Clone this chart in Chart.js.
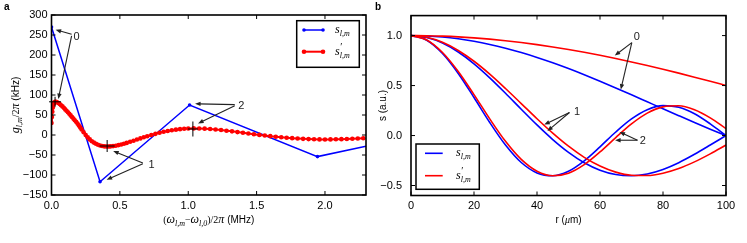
<!DOCTYPE html>
<html>
<head>
<meta charset="utf-8">
<script src="https://cdn.jsdelivr.net/npm/chart.js@4.4.1/dist/chart.umd.min.js"></script>
<style>
  body{margin:0;background:#fff}
  #wrap{position:relative;width:747px;height:243px}
  canvas{position:absolute;top:0}
</style>
</head>
<body>
<div id="wrap">
  <canvas id="chartA" width="373" height="243" style="left:0"></canvas>
  <canvas id="chartB" width="374" height="243" style="left:373px"></canvas>
</div>
<script>
/* ---------- panel a data : coupling vs detuning ---------- */
const blueFreq     = [0, 0.355, 1.01, 1.945, 2.3];
const blueCoupling = [270, -117, 75, -54, -28];

const redFreq = [
  0,0.003,0.006,0.01,0.015,0.02,0.026,0.033,0.04,0.05,
  0.06,0.07,0.08,0.09,0.10,0.11,0.12,0.13,0.14,0.15,0.16,0.17,0.18,0.19,0.20,0.21,0.22,
  0.235,0.25,0.265,0.28,0.295,0.31,0.325,0.34,0.355,0.37,0.385,0.40,0.415,0.43,
  0.45,0.47,0.49,0.51,0.53,0.55,
  0.575,0.60,0.625,0.65,0.675,0.70,
  0.73,0.76,0.79,0.82,0.85,0.88,0.91,0.94,0.97,1.00,
  1.04,1.08,1.12,1.16,1.20,1.24,1.28,1.32,1.36,1.40,1.44,1.48,1.52,1.56,1.60,1.64,
  1.68,1.72,1.76,1.80,1.84,1.88,1.92,1.96,2.00,2.04,2.08,2.12,2.16,2.20,2.24,2.28
];
const redCoupling = [
  30,45,58,69,77,81,83,83,82,80,
  77.5,74.5,71.5,68,64,60.5,57,53,49,45,41,37,33,28.5,24,19,14,
  7,0,-6,-11,-15.5,-19,-22,-24.5,-26.3,-27.6,-28.4,-28.8,-28.8,-28.5,
  -27.8,-26.7,-25.3,-23.6,-21.7,-19.7,
  -17,-14.2,-11.3,-8.5,-5.7,-3.1,
  0,2.9,5.6,8,10.1,11.9,13.4,14.6,15.5,16.1,
  16.5,16.4,15.9,15,13.8,12.4,10.8,9.1,7.3,5.5,3.7,1.9,0.2,-1.4,-2.9,-4.3,
  -5.6,-6.8,-7.9,-8.8,-9.6,-10.2,-10.7,-11,-11.1,-11,-10.8,-10.4,-10,-9.4,-8.8,-8.2
];
const ticksAx = [0, 0.5, 1.0, 1.5, 2.0];
const ticksAy = [-150,-100,-50,0,50,100,150,200,250,300];

/* ---------- panel b data : mode profiles vs radius ---------- */
const rUm   = [0,5,10,15,20,25,30,35,40,45,50,55,60,65,70,75,80,85,90,95,100];
const blue0 = [1,0.9964,0.9856,0.9676,0.9430,0.9117,0.8739,0.8300,0.7814,0.7280,0.6698,0.6080,0.5434,0.4762,0.4075,0.3377,0.2679,0.1986,0.1302,0.0638,0];
const red0  = [1,0.9986,0.9942,0.9871,0.9770,0.9643,0.9488,0.9305,0.9096,0.8863,0.8605,0.8325,0.8027,0.7705,0.7362,0.7005,0.6630,0.6242,0.5840,0.5428,0.5006];
const blue1 = [1,0.981,0.9255,0.8355,0.7178,0.5777,0.4233,0.2632,0.1059,-0.0403,-0.1682,-0.2722,-0.3467,-0.3905,-0.4024,-0.3843,-0.3389,-0.2715,-0.1878,-0.0951,0];
const red1  = [1,0.983,0.9324,0.8509,0.7432,0.6145,0.4707,0.3197,0.1678,0.0237,-0.1070,-0.2183,-0.3050,-0.3660,-0.3971,-0.4001,-0.3772,-0.3301,-0.2635,-0.1834,-0.0952];
const blue2 = [1,0.9537,0.8211,0.6211,0.3800,0.1305,-0.0948,-0.2697,-0.3740,-0.4020,-0.3564,-0.2524,-0.1130,0.0353,0.1660,0.2585,0.2990,0.2830,0.2177,0.1166,0];
const red2  = [1,0.9564,0.8310,0.6405,0.4095,0.1666,-0.0583,-0.2389,-0.3567,-0.4020,-0.3766,-0.2909,-0.1644,-0.0206,0.1161,0.2238,0.2867,0.2976,0.2575,0.1763,0.0692];
const ticksBx = [0,20,40,60,80,100];
const ticksBy = [-0.5,0,0.5,1.0];

/* ---------- helpers ---------- */
const BLUE='#0000ff', RED='#ff0000', INK='#222';
const SANS='"Liberation Sans", Arial, sans-serif';
const SERIF='"Liberation Serif", "DejaVu Serif", serif';
const pts = (xs,ys)=>xs.map((v,i)=>({x:v,y:ys[i]}));
const minus = s=>s.replace('-','\u2212');

// draw run of text pieces: [text, font, dy, noAdvance, dx]
function rich(ctx,parts,x,y,align){
  let w=0;
  parts.forEach(p=>{ if(!p[3]){ctx.font=p[1]; w+=ctx.measureText(p[0]).width;} });
  let cx = align==='left' ? x : x-w/2;
  ctx.textAlign='left'; ctx.textBaseline='alphabetic';
  parts.forEach(p=>{
    ctx.font=p[1]; ctx.fillText(p[0],cx+(p[4]||0),y+(p[2]||0));
    if(!p[3]) cx+=ctx.measureText(p[0]).width;
  });
}
function seg(ctx,x1,y1,x2,y2){ctx.beginPath();ctx.moveTo(x1,y1);ctx.lineTo(x2,y2);ctx.stroke();}
function arrow(ctx,x1,y1,x2,y2){
  const a=Math.atan2(y2-y1,x2-x1), L=5.5, W=2.2, c=Math.cos(a), s=Math.sin(a);
  seg(ctx,x1,y1,x2-c*L*0.7,y2-s*L*0.7);
  ctx.beginPath();
  ctx.moveTo(x2,y2);
  ctx.lineTo(x2-L*c+W*s, y2-L*s-W*c);
  ctx.lineTo(x2-L*c-W*s, y2-L*s+W*c);
  ctx.closePath(); ctx.fill();
}

/* ---------- decoration plugin: frame, inward ticks, arrows, legend, titles ---------- */
const deco = {
  id:'deco',
  beforeDraw(chart){
    const c=chart.ctx; c.save(); c.fillStyle='#fff'; c.fillRect(0,0,chart.width,chart.height); c.restore();
  },
  afterDatasetsDraw(chart,args,o){
    const {ctx,chartArea:ca,scales:{x,y}} = chart;
    const X=v=>x.getPixelForValue(v), Y=v=>y.getPixelForValue(v);
    ctx.save();
    ctx.strokeStyle='#000'; ctx.lineWidth=1;
    (o.crosses||[]).forEach(c=>{ seg(ctx,X(c.x)-c.w,Y(c.y),X(c.x)+c.w,Y(c.y)); seg(ctx,X(c.x),Y(c.y)-c.h,X(c.x),Y(c.y)+c.h); });
    ctx.strokeStyle=INK; ctx.fillStyle=INK; ctx.lineWidth=1.1;
    (o.arrows||[]).forEach(a=>arrow(ctx,X(a[0]),Y(a[1]),X(a[2]),Y(a[3])));
    ctx.font='11px '+SANS; ctx.textAlign='center'; ctx.textBaseline='middle';
    (o.labels||[]).forEach(l=>ctx.fillText(l.t,X(l.x),Y(l.y)));
    // inward ticks on all four sides
    ctx.strokeStyle='#000'; ctx.lineWidth=1;
    x.ticks.forEach(t=>{const p=X(t.value); seg(ctx,p,ca.bottom,p,ca.bottom-4); seg(ctx,p,ca.top,p,ca.top+4);});
    y.ticks.forEach(t=>{const p=Y(t.value); seg(ctx,ca.left,p,ca.left+4,p); seg(ctx,ca.right,p,ca.right-4,p);});
    ctx.lineWidth=1.6;
    ctx.strokeRect(ca.left,ca.top,ca.right-ca.left,ca.bottom-ca.top);
    // legend
    const lg=o.legend;
    ctx.fillStyle='#fff'; ctx.fillRect(lg.x,lg.y,lg.w,lg.h);
    ctx.strokeStyle='#000'; ctx.lineWidth=1.5; ctx.strokeRect(lg.x,lg.y,lg.w,lg.h);
    lg.rows.forEach(r=>{
      ctx.strokeStyle=r.color; ctx.fillStyle=r.color; ctx.lineWidth=r.lw;
      seg(ctx,lg.lx0,r.y,lg.lx1,r.y);
      if(r.dot){[lg.lx0,lg.lx1].forEach(px=>{ctx.beginPath();ctx.arc(px,r.y,r.dot,0,Math.PI*2);ctx.fill();});}
      ctx.fillStyle='#000';
      rich(ctx,r.text,lg.tx,r.y+3,'left');
    });
    // axis titles and panel letter
    ctx.fillStyle='#000';
    rich(ctx,o.xTitle,(ca.left+ca.right)/2,o.xTitleY);
    ctx.save(); ctx.translate(o.yTitleX,(ca.top+ca.bottom)/2); ctx.rotate(-Math.PI/2);
    rich(ctx,o.yTitle,0,0); ctx.restore();
    ctx.font='bold 10px '+SANS; ctx.textAlign='left'; ctx.textBaseline='alphabetic';
    ctx.fillText(o.letter,o.letterX,10);
    ctx.restore();
  }
};

const tickFont={family:SANS,size:11};
const it='italic 12px '+SERIF, sub='italic 8px '+SERIF;
const sLabel  =[['s',it],['l,m',sub,3]];
const sPLabel =[['s',it],['\u2032','10px '+SERIF,-5,true,0.5],['l,m',sub,3]];

function axis(min,max,list,fmt,size,pad,isX){
  return {
    type:'linear',min,max,
    afterBuildTicks:s=>{s.ticks=list.map(v=>({value:v}));},
    afterFit:s=>{ if(isX) s.height=size; else s.width=size; },
    grid:{display:false,drawTicks:false,tickLength:0}, border:{display:false},
    ticks:{font:tickFont,color:'#000',padding:pad,callback:fmt,maxRotation:0,autoSkip:false}
  };
}

/* ---------- chart a ---------- */
new Chart(document.getElementById('chartA'),{
  type:'line',
  data:{datasets:[
    {label:"s'", data:pts(redFreq,redCoupling), borderColor:RED, backgroundColor:RED,
     borderWidth:2, pointRadius:2.3, pointBorderWidth:0, order:0},
    {label:'s', data:pts(blueFreq,blueCoupling), borderColor:BLUE, backgroundColor:BLUE,
     borderWidth:1.5, pointRadius:[1.8,1.8,1.8,1.8,0], pointBorderWidth:0, order:1}
  ]},
  options:{
    responsive:false, animation:false, events:[],
    layout:{padding:{left:0,right:7,top:15,bottom:0}},
    scales:{
      x:axis(0,2.3,ticksAx,v=>v.toFixed(1),48,4,true),
      y:axis(-150,300,ticksAy,v=>minus(String(v)),51.5,4,false)
    },
    plugins:{
      legend:{display:false}, tooltip:{enabled:false},
      deco:{
        crosses:[{x:0.026,y:83,w:6,h:5},{x:0.407,y:-27.5,w:7.5,h:6},{x:1.034,y:15,w:5,h:7.5}],
        arrows:[[0.147,252,0.03,263],[0.147,248,0.05,90],
                [0.668,-70,0.451,-40],[0.668,-72,0.403,-112],
                [1.34,76,1.05,78],[1.34,73,1.072,29]],
        labels:[{t:'0',x:0.184,y:246},{t:'1',x:0.731,y:-75},{t:'2',x:1.388,y:72.5}],
        legend:{x:296.7,y:20.7,w:62.6,h:46.6,lx0:304,lx1:323,tx:335,
          rows:[{y:30,color:BLUE,lw:1.5,dot:1.8,text:sLabel},
                {y:51.7,color:RED,lw:2,dot:2.3,text:sPLabel}]},
        xTitle:[['(',  '10px '+SERIF],['\u03c9',it],['l,m',sub,3],['\u2212','10px '+SERIF],['\u03c9',it],['l,0',sub,3],[')/2','10px '+SERIF],['\u03c0',it],[' (MHz)','10px '+SANS]],
        xTitleY:222.5,
        yTitle:[['g',it],['l,m',sub,3],['/2','10px '+SERIF],['\u03c0',it],[' (kHz)','10px '+SANS]],
        yTitleX:18.5,
        letter:'a', letterX:4
      }
    }
  },
  plugins:[deco]
});

/* ---------- chart b ---------- */
const curve=(ys,color)=>({data:pts(rUm,ys),borderColor:color,borderWidth:1.6,pointRadius:0,
  cubicInterpolationMode:'monotone',order:color===RED?0:1});

new Chart(document.getElementById('chartB'),{
  type:'line',
  data:{datasets:[
    curve(red0,RED),curve(red1,RED),curve(red2,RED),
    curve(blue0,BLUE),curve(blue1,BLUE),curve(blue2,BLUE)
  ]},
  options:{
    responsive:false, animation:false, events:[],
    layout:{padding:{left:0,right:21,top:15,bottom:0}},
    scales:{
      x:axis(0,100,ticksBx,v=>String(v),47.5,4,true),
      y:axis(-0.6,1.2,ticksBy,v=>minus(v.toFixed(1)),38,9,false)
    },
    plugins:{
      legend:{display:false}, tooltip:{enabled:false},
      deco:{
        arrows:[[70.1,0.93,64.7,0.80],[70.1,0.93,66.6,0.46],
                [50.3,0.23,42.3,0.11],[50.3,0.23,43.3,0.045],
                [71.9,-0.047,66.2,0.036],[71.9,-0.047,64.8,-0.047]],
        labels:[{t:'0',x:71.7,y:0.99},{t:'1',x:52.7,y:0.236},{t:'2',x:73.6,y:-0.057}],
        legend:{x:43,y:144,w:63.3,h:45.3,lx0:52,lx1:69.7,tx:83,
          rows:[{y:153.3,color:BLUE,lw:1.6,text:sLabel},
                {y:175.7,color:RED,lw:1.6,text:sPLabel}]},
        xTitle:[['r (','10px '+SANS],['\u03bc','italic 10px '+SERIF],['m)','10px '+SANS]],
        xTitleY:222.5,
        yTitle:[['s (a.u.)','10px '+SANS]],
        yTitleX:12.5,
        letter:'b', letterX:2
      }
    }
  },
  plugins:[deco]
});
</script>
</body>
</html>
